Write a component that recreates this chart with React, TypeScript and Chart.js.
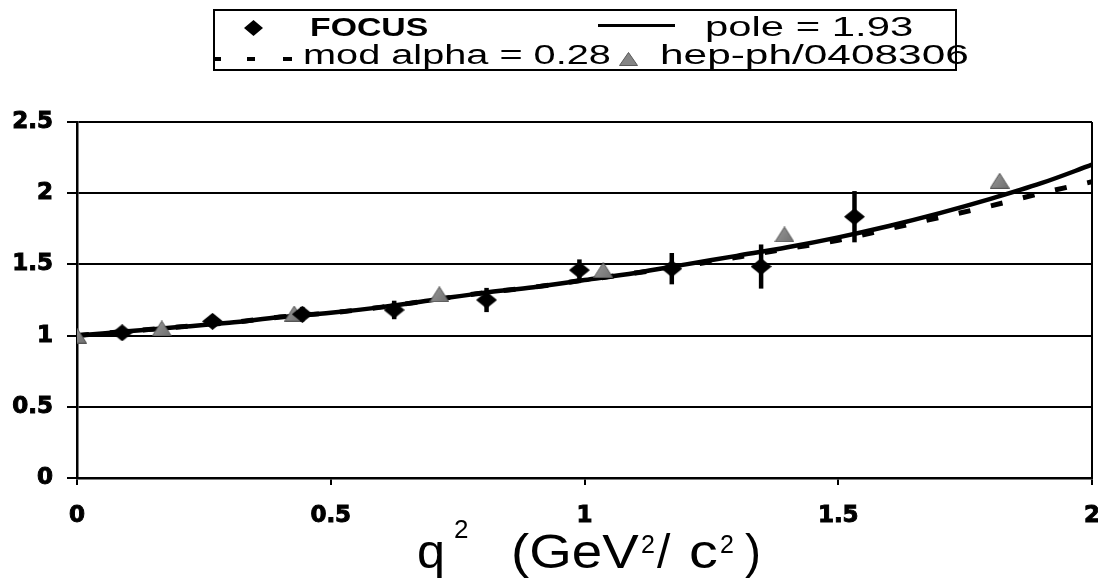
import React, { useEffect, useRef } from 'react';
import { Chart, registerables } from 'chart.js';

Chart.register(...registerables);

// ---- data ----
const focusQ2 = [0.089, 0.267, 0.444, 0.625, 0.807, 0.99, 1.172, 1.348, 1.532];
const focusRatio = [1.02, 1.10, 1.15, 1.18, 1.25, 1.46, 1.47, 1.485, 1.835];
const focusError = [0.02, 0.03, 0.05, 0.065, 0.085, 0.075, 0.11, 0.155, 0.18];

const latticeQ2 = [0, 0.167, 0.428, 0.714, 1.037, 1.394, 1.818];
const latticeRatio = [1.0, 1.05, 1.155, 1.29, 1.46, 1.71, 2.087];

const curveQ2 = [0, 0.1, 0.2, 0.3, 0.4, 0.5, 0.6, 0.7, 0.8, 0.9, 1.0, 1.1, 1.2, 1.3, 1.4, 1.5, 1.6, 1.7, 1.8, 1.9, 2.0];
const poleValues = [1.0, 1.03, 1.06, 1.09, 1.13, 1.16, 1.2, 1.25, 1.3, 1.34, 1.39, 1.44, 1.5, 1.56, 1.62, 1.69, 1.77, 1.86, 1.96, 2.07, 2.2];
const modAlphaValues = [1.0, 1.03, 1.06, 1.09, 1.13, 1.16, 1.2, 1.25, 1.3, 1.34, 1.39, 1.44, 1.49, 1.55, 1.61, 1.67, 1.75, 1.83, 1.91, 2.0, 2.08];

const xTicks = [0, 0.5, 1, 1.5, 2];
const yTicks = [0, 0.5, 1, 1.5, 2, 2.5];

const legendFocus = 'FOCUS';
const legendPole = 'pole = 1.93';
const legendMod = 'mod alpha = 0.28';
const legendLattice = 'hep-ph/0408306';

const FONT = "'Liberation Sans', Arial, sans-serif";

function makeDiamond(w: number, h: number) {
  const c = document.createElement('canvas');
  c.width = w;
  c.height = h;
  const ctx = c.getContext('2d')!;
  ctx.fillStyle = '#000';
  ctx.beginPath();
  ctx.moveTo(0, h / 2);
  ctx.lineTo(w / 2, 0);
  ctx.lineTo(w, h / 2);
  ctx.lineTo(w / 2, h);
  ctx.closePath();
  ctx.fill();
  return c;
}

function makeTriangle(w: number, h: number) {
  const c = document.createElement('canvas');
  c.width = w;
  c.height = h;
  const ctx = c.getContext('2d')!;
  const g = ctx.createLinearGradient(0, 0, w, h);
  g.addColorStop(0, '#9a9a9a');
  g.addColorStop(1, '#6e6e6e');
  ctx.fillStyle = g;
  ctx.strokeStyle = '#555';
  ctx.lineWidth = 1;
  ctx.beginPath();
  ctx.moveTo(w / 2, 0.5);
  ctx.lineTo(w - 0.5, h - 0.5);
  ctx.lineTo(0.5, h - 0.5);
  ctx.closePath();
  ctx.fill();
  ctx.stroke();
  return c;
}

const errorBarPlugin = {
  id: 'errorBars',
  afterDatasetsDraw(chart: any) {
    const { ctx, scales } = chart;
    const xs = scales.x;
    const ys = scales.y;
    ctx.save();
    ctx.strokeStyle = '#000';
    ctx.lineWidth = 4.5;
    ctx.lineCap = 'butt';
    focusQ2.forEach((q, i) => {
      const px = xs.getPixelForValue(q);
      const top = ys.getPixelForValue(focusRatio[i] + focusError[i]);
      const bot = ys.getPixelForValue(focusRatio[i] - focusError[i]);
      ctx.beginPath();
      ctx.moveTo(px, top);
      ctx.lineTo(px, bot);
      ctx.stroke();
    });
    ctx.restore();
  },
};

const framePlugin = {
  id: 'frameRight',
  afterDraw(chart: any) {
    const { ctx, chartArea } = chart;
    ctx.save();
    ctx.strokeStyle = '#000';
    ctx.lineWidth = 2;
    ctx.beginPath();
    ctx.moveTo(chartArea.right, chartArea.top);
    ctx.lineTo(chartArea.right, chartArea.bottom);
    ctx.stroke();
    ctx.restore();
  },
};

function Txt(props: { left: number; baseline: number; size: number; bold?: boolean; sx?: number; children: any }) {
  const { left, baseline, size, bold, sx, children } = props;
  return (
    <div
      style={{
        position: 'absolute',
        left,
        top: baseline - 0.8465 * size,
        fontFamily: FONT,
        fontSize: size,
        lineHeight: `${size}px`,
        fontWeight: bold ? 'bold' : 'normal',
        whiteSpace: 'pre',
        color: '#000',
        transform: `scaleX(${sx ?? 1})`,
        transformOrigin: 'left center',
      }}
    >
      {children}
    </div>
  );
}

export default function App() {
  const canvasRef = useRef<HTMLCanvasElement | null>(null);

  useEffect(() => {
    const canvas = canvasRef.current;
    if (!canvas) return;
    const diamond = makeDiamond(21, 17);
    const triangle = makeTriangle(20, 16);
    const tickFont = { family: "'DejaVu Sans', sans-serif", weight: 'bold' as const, size: 23 };

    const chart = new Chart(canvas, {
      type: 'scatter',
      data: {
        datasets: [
          {
            label: legendFocus,
            data: focusQ2.map((x, i) => ({ x, y: focusRatio[i] })),
            pointStyle: diamond as any,
            showLine: false,
            order: 0,
          },
          {
            label: legendLattice,
            data: latticeQ2.map((x, i) => ({ x, y: latticeRatio[i] })),
            pointStyle: triangle as any,
            showLine: false,
            order: 1,
          },
          {
            label: legendPole,
            data: curveQ2.map((x, i) => ({ x, y: poleValues[i] })),
            showLine: true,
            pointRadius: 0,
            borderColor: '#000',
            borderWidth: 4.5,
            cubicInterpolationMode: 'monotone',
            order: 2,
          },
          {
            label: legendMod,
            data: curveQ2.map((x, i) => ({ x, y: modAlphaValues[i] })),
            showLine: true,
            pointRadius: 0,
            borderColor: '#000',
            borderWidth: 5,
            borderDash: [12, 21],
            cubicInterpolationMode: 'monotone',
            order: 3,
          },
        ],
      },
      options: {
        responsive: false,
        animation: false,
        events: [],
        layout: { padding: { left: 0, right: 6, top: 122, bottom: 0 } },
        plugins: {
          legend: { display: false },
          tooltip: { enabled: false },
          title: { display: false },
        },
        scales: {
          x: {
            type: 'linear',
            min: 0,
            max: 2,
            afterBuildTicks: (axis: any) => {
              axis.ticks = xTicks.map((v) => ({ value: v }));
            },
            afterFit: (axis: any) => {
              axis.height = 103;
              axis.paddingLeft = 0;
              axis.paddingRight = 0;
            },
            ticks: {
              font: tickFont,
              color: '#000',
              textStrokeColor: '#000',
              textStrokeWidth: 1,
              padding: 17,
              maxRotation: 0,
              callback: (v: any) => String(v),
            },
            grid: {
              drawOnChartArea: false,
              drawTicks: true,
              tickLength: 7,
              color: '#000',
              lineWidth: 2,
            },
            border: { color: '#000', width: 2.5 },
          },
          y: {
            type: 'linear',
            min: 0,
            max: 2.5,
            afterBuildTicks: (axis: any) => {
              axis.ticks = yTicks.map((v) => ({ value: v }));
            },
            afterFit: (axis: any) => {
              axis.width = 77;
              axis.paddingTop = 0;
              axis.paddingBottom = 0;
            },
            ticks: {
              font: tickFont,
              color: '#000',
              textStrokeColor: '#000',
              textStrokeWidth: 1,
              padding: 14,
              callback: (v: any) => String(v),
            },
            grid: {
              drawTicks: true,
              tickLength: 10,
              color: '#000',
              lineWidth: 2,
            },
            border: { color: '#000', width: 2.5 },
          },
        },
      },
      plugins: [errorBarPlugin, framePlugin],
    });
    return () => chart.destroy();
  }, []);

  return (
    <div style={{ position: 'absolute', left: 0, top: 0, width: 1098, height: 581, background: '#fff', overflow: 'hidden' }}>
      <canvas ref={canvasRef} width={1098} height={581} style={{ position: 'absolute', left: 0, top: 0, width: 1098, height: 581 }} />

      {/* legend box */}
      <div style={{ position: 'absolute', left: 213, top: 9, width: 744, height: 62, border: '2px solid #000', boxSizing: 'border-box' }} />
      <svg style={{ position: 'absolute', left: 244, top: 20 }} width={19} height={16}>
        <polygon points="0,8 9.5,0 19,8 9.5,16" fill="#000" />
      </svg>
      <Txt left={310} baseline={36} size={26} bold sx={1.3}>{legendFocus}</Txt>
      <div style={{ position: 'absolute', left: 598, top: 24, width: 77, height: 3, background: '#000' }} />
      <Txt left={705} baseline={37} size={27} sx={1.55}>{legendPole}</Txt>

      <div style={{ position: 'absolute', left: 213, top: 57, width: 8, height: 4, background: '#000' }} />
      <div style={{ position: 'absolute', left: 247, top: 57, width: 8, height: 4, background: '#000' }} />
      <div style={{ position: 'absolute', left: 283, top: 57, width: 9, height: 4, background: '#000' }} />
      <Txt left={303} baseline={65} size={27} sx={1.47}>{legendMod}</Txt>
      <svg style={{ position: 'absolute', left: 619, top: 52 }} width={19} height={14}>
        <polygon points="9.5,0.5 18.5,13.5 0.5,13.5" fill="#858585" stroke="#5a5a5a" strokeWidth={1} />
      </svg>
      <Txt left={660} baseline={65} size={27} sx={1.57}>{legendLattice}</Txt>

      {/* x axis title: q^2 (GeV^2/ c^2) */}
      <Txt left={417} baseline={569} size={48} sx={1.05}>q</Txt>
      <Txt left={454} baseline={538} size={26}>2</Txt>
      <Txt left={511} baseline={569} size={48} sx={1.14}>(GeV</Txt>
      <Txt left={641} baseline={553} size={25}>2</Txt>
      <Txt left={657} baseline={569} size={48}>/</Txt>
      <Txt left={689} baseline={569} size={48} sx={1.2}>c</Txt>
      <Txt left={720} baseline={553} size={25}>2</Txt>
      <Txt left={745} baseline={569} size={48}>)</Txt>
    </div>
  );
}
